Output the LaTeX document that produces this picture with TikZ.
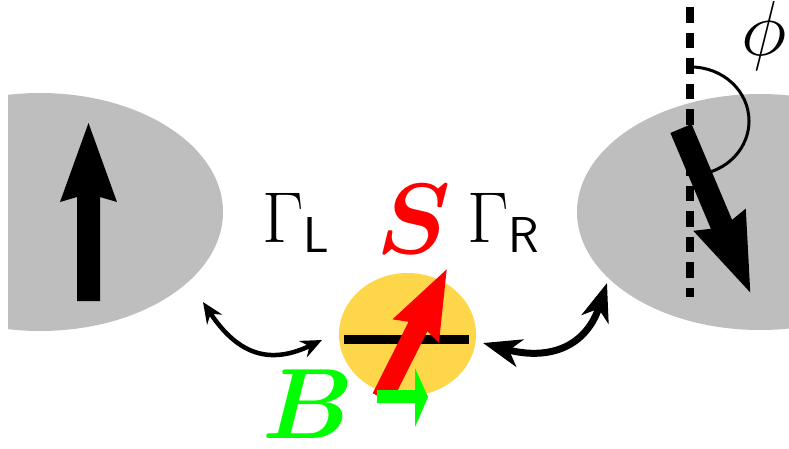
\RequirePackage{fix-cm}
\documentclass[tikz,border=0pt]{standalone}
\usepackage{bm}
\usetikzlibrary{arrows.meta,shapes.geometric}
\definecolor{leadgray}{RGB}{190,190,190}
\definecolor{dotyellow}{RGB}{253,214,74}
\definecolor{spinred}{RGB}{255,0,0}
\definecolor{fieldgreen}{RGB}{0,255,0}
% #1 length, #2 head length, #3 head half-width, #4 shaft half-width
\newcommand\fatarrow[4]{%
  \fill (0,-#4) -- ({#1-#2+5},-#4) -- ({#1-#2},-#3) -- (#1,0) -- ({#1-#2},#3) -- ({#1-#2+5},#4) -- (0,#4) -- cycle;}
\tikzset{
  biglabel/.style={anchor=base west, inner sep=0pt, font=\fontsize{72}{86}\selectfont},
  hugelabel/.style={anchor=base west, inner sep=0pt, font=\fontsize{100}{120}\selectfont},
  thinexch/.style={line width=4.5pt, {Stealth[length=21pt,width=18pt,inset=7pt]}-{Stealth[length=21pt,width=18pt,inset=7pt]}},
  thickexch/.style={line width=7pt, {Stealth[length=38pt,width=28pt,inset=11pt]}-{Stealth[length=38pt,width=28pt,inset=11pt]}},
}
\begin{document}
\begin{tikzpicture}[x=1pt,y=-1pt]
\useasboundingbox (0,0) rectangle (789,448);
\clip (0,0) rectangle (789,448);
% leads
\begin{scope}
  \clip (8,0) rectangle (789,448);
  \fill[leadgray] (40,212) ellipse [x radius=183, y radius=119];
\end{scope}
\fill[leadgray] (760,212) ellipse [x radius=183, y radius=118];
% left magnetization
\begin{scope}[shift={(88.5,301)}, rotate=90]
  \fatarrow{178}{79}{28.5}{11.5}
\end{scope}
% right: dashed axis, magnetization, angle
\draw[line width=8pt, dash pattern=on 15.5pt off 10pt] (690,7) -- (690,297);
\begin{scope}[shift={(681,128.5)}, rotate=-67.1]
  \fatarrow{178}{79}{28.5}{11.5}
\end{scope}
\draw[line width=3pt] (691,67) arc[start angle=-90, end angle=70, x radius=58, y radius=54];
\node[anchor=base west, inner sep=0pt, font=\fontsize{78}{90}\selectfont] (phi) at (741,55) {$\phi$};
% dot
\node[ellipse, fill=dotyellow, minimum width=137pt, minimum height=123pt, inner sep=0pt] (dot) at (407.5,334.5) {};
\fill (344,335) rectangle (469,344);
\begin{scope}[shift={(382,398)}, rotate=63.3, spinred]
  \fatarrow{144}{69}{26}{10.5}
\end{scope}
\fill[fieldgreen] (377,390) -- (415,390) -- (415,368) -- (428,397) -- (415,427) -- (415,403) -- (377,403) -- cycle;
% labels
\node[biglabel] (gl) at (262,242) {$\Gamma_{\mathsf{L}}$};
\node[biglabel] (gr) at (467,242) {$\Gamma_{\mathsf{R}}$};
\node[hugelabel, text=spinred] (s) at (376,253) {$\bm{S}$};
\node[hugelabel, text=fieldgreen] (b) at (262,438) {$\bm{B}$};
% tunnelling arrows
\coordinate (l1) at (203,302);
\coordinate (l2) at (322,340);
\coordinate (r1) at (483,343);
\coordinate (r2) at (607,283);
\draw[thinexch] (l1) .. controls (238,355) and (270,365) .. (l2);
\draw[thickexch] (r1) .. controls (545,360) and (585,350) .. (r2);
\end{tikzpicture}
\end{document}
